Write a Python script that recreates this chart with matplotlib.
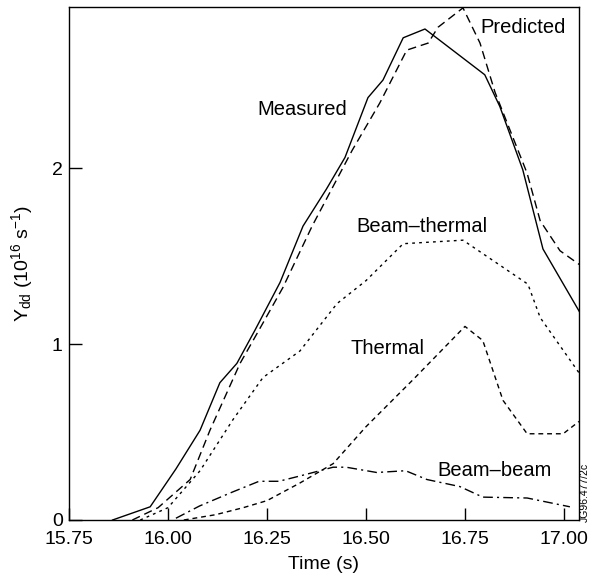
import matplotlib
matplotlib.use("Agg")
import matplotlib.pyplot as plt

plt.rcParams['font.family'] = ['Liberation Sans', 'DejaVu Sans']
plt.rcParams['mathtext.default'] = 'regular'

# Data
t_measured = [15.86, 15.955, 16.02, 16.081, 16.131, 16.174, 16.22, 16.283, 16.341, 16.40,
              16.447, 16.505, 16.543, 16.594, 16.649, 16.80, 16.838, 16.896, 16.947, 17.04]
y_measured = [0.0, 0.075, 0.29, 0.51, 0.78, 0.89, 1.08, 1.35, 1.67, 1.88,
              2.06, 2.40, 2.50, 2.74, 2.79, 2.53, 2.35, 1.99, 1.54, 1.18]

t_predicted = [15.91, 15.975, 16.056, 16.106, 16.182, 16.225, 16.29, 16.364, 16.465, 16.535,
               16.603, 16.657, 16.682, 16.745, 16.788, 16.826, 16.907, 16.94, 16.99, 17.04]
y_predicted = [0.0, 0.07, 0.23, 0.51, 0.89, 1.06, 1.32, 1.67, 2.10, 2.37,
               2.67, 2.71, 2.80, 2.91, 2.71, 2.43, 1.97, 1.70, 1.53, 1.45]

t_beam_thermal = [15.93, 16.0, 16.081, 16.164, 16.24, 16.333, 16.427, 16.5, 16.594, 16.745,
                  16.909, 16.94, 17.04]
y_beam_thermal = [0.0, 0.07, 0.28, 0.57, 0.81, 0.96, 1.23, 1.36, 1.57, 1.59,
                  1.34, 1.15, 0.83]

t_thermal = [16.04, 16.12, 16.19, 16.25, 16.333, 16.417, 16.5, 16.62, 16.75, 16.795,
             16.846, 16.907, 16.998, 17.038]
y_thermal = [0.0, 0.03, 0.07, 0.11, 0.21, 0.32, 0.53, 0.80, 1.10, 1.02,
             0.68, 0.49, 0.49, 0.56]

t_beam_beam = [16.02, 16.08, 16.164, 16.23, 16.28, 16.333, 16.417, 16.45, 16.527, 16.60,
               16.654, 16.737, 16.795, 16.907, 17.015]
y_beam_beam = [0.01, 0.08, 0.16, 0.22, 0.22, 0.25, 0.30, 0.30, 0.27, 0.28,
               0.23, 0.19, 0.13, 0.125, 0.075]

x_ticks = [15.75, 16.00, 16.25, 16.50, 16.75, 17.00]
x_tick_labels = ["15.75", "16.00", "16.25", "16.50", "16.75", "17.00"]
y_ticks = [0, 1, 2]
y_tick_labels = ["0", "1", "2"]

fig = plt.figure(figsize=(5.99, 5.82), dpi=100)
ax = fig.add_axes([69/599, 1-520/582, (579-69)/599, (520-7)/582])

lw = 1.0
ax.plot(t_measured, y_measured, color='black', lw=lw, linestyle='-')
ax.plot(t_predicted, y_predicted, color='black', lw=lw, linestyle=(0, (6, 3.5)))
ax.plot(t_beam_thermal, y_beam_thermal, color='black', lw=lw, linestyle=(0, (2, 3)))
ax.plot(t_thermal, y_thermal, color='black', lw=lw, linestyle=(0, (3.5, 2.8)))
ax.plot(t_beam_beam, y_beam_beam, color='black', lw=lw, linestyle=(0, (7, 3, 1.5, 3)))

fs = 14.5
ax.text(16.227, 2.33, "Measured", fontsize=fs, ha='left', va='center')
ax.text(16.788, 2.80, "Predicted", fontsize=fs, ha='left', va='center')
ax.text(16.477, 1.665, "Beam\u2013thermal", fontsize=fs, ha='left', va='center')
ax.text(16.46, 0.977, "Thermal", fontsize=fs, ha='left', va='center')
ax.text(16.68, 0.284, "Beam\u2013beam", fontsize=fs, ha='left', va='center')

ax.set_xlim(15.75, 17.038)
ax.set_ylim(0, 2.915)
ax.set_xticks(x_ticks)
ax.set_xticklabels(x_tick_labels)
ax.set_yticks(y_ticks)
ax.set_yticklabels(y_tick_labels)
ax.tick_params(axis='both', direction='in', length=9, width=1, labelsize=14)
ax.tick_params(axis='x', pad=8)
ax.tick_params(axis='y', pad=4.5)

ax.set_xlabel("Time (s)", fontsize=14, labelpad=6)
ax.set_ylabel("Y$_{dd}$ (10$^{16}$ s$^{-1}$)", fontsize=14, labelpad=12)

for s in ax.spines.values():
    s.set_linewidth(1.0)

fig.text(585/599, 1-492/582, "JG96.477/2c", rotation=90, fontsize=7.5, ha='center', va='center')

fig.savefig("out.png", dpi=100)
